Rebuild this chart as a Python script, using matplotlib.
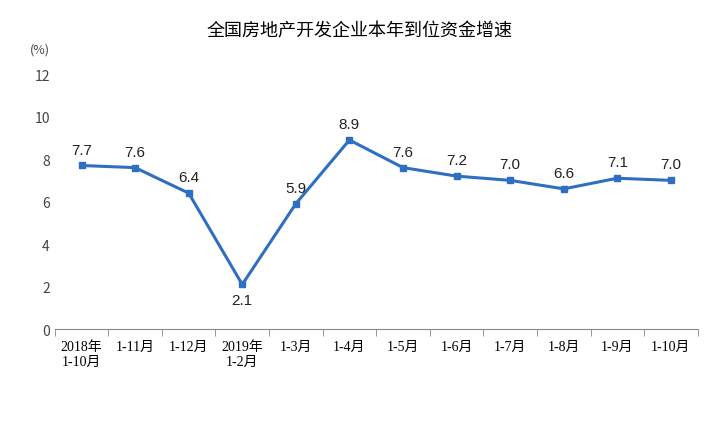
import matplotlib
matplotlib.use("Agg")
import matplotlib.pyplot as plt

plt.rcParams['font.family'] = ['Noto Sans CJK SC', 'DejaVu Sans']

categories = ["2018年\n1-10月", "1-11月", "1-12月", "2019年\n1-2月", "1-3月", "1-4月",
              "1-5月", "1-6月", "1-7月", "1-8月", "1-9月", "1-10月"]
values = [7.7, 7.6, 6.4, 2.1, 5.9, 8.9, 7.6, 7.2, 7.0, 6.6, 7.1, 7.0]

fig = plt.figure(figsize=(7.2, 4.27), dpi=100)
ax = fig.add_axes([0.076, 0.227, 0.893, 0.597])
x = list(range(len(values)))
ax.plot(x, values, color="#2e6fc2", lw=2.2, marker="s", ms=4.5)
for i, v in enumerate(values):
    dy = -0.75 if i == 3 else 0.75
    ax.text(i, v + dy, f"{v:.1f}", ha="center", va="center", fontsize=11,
            color="#222", family=['Liberation Sans', 'DejaVu Sans'])
ax.set_xlim(-0.5, len(values) - 0.5)
ax.set_ylim(0, 12)
ax.set_yticks(range(0, 13, 2))
ax.set_xticks(x)
ax.set_xticklabels(categories, fontsize=10, family=['Liberation Serif', 'Noto Sans CJK SC'], va="top")
ax.set_xticks([i + 0.5 for i in range(-1, len(values))], minor=True)
ax.tick_params(axis="x", which="major", length=0, pad=8)
ax.tick_params(axis="x", which="minor", length=5, color="#888")
ax.tick_params(axis="y", length=0, labelsize=10, colors="#444")
for s in ["top", "right", "left"]:
    ax.spines[s].set_visible(False)
ax.spines["bottom"].set_color("#888")
fig.text(0.042, 0.875, "(%)", fontsize=9, color="#444")
fig.text(0.5, 0.915, "全国房地产开发企业本年到位资金增速", ha="center", fontsize=13)
fig.savefig("out.png")
